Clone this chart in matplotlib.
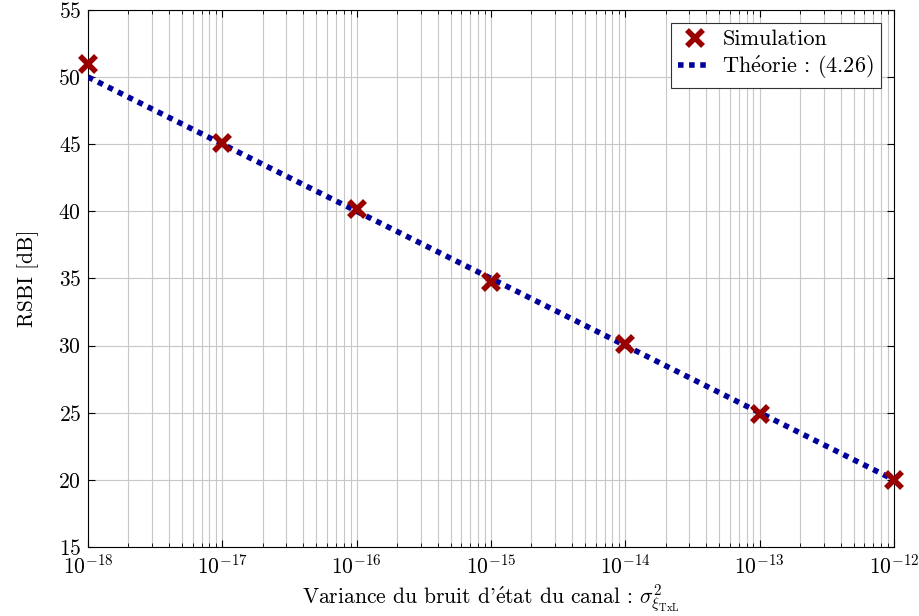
import numpy as np
import matplotlib
matplotlib.use('Agg')
import matplotlib.pyplot as plt

plt.rcParams['font.family'] = ['cmr10', 'DejaVu Serif']
plt.rcParams['mathtext.fontset'] = 'cm'
plt.rcParams['axes.unicode_minus'] = False
plt.rcParams['axes.formatter.use_mathtext'] = True

variance = [1e-18, 1e-17, 1e-16, 1e-15, 1e-14, 1e-13, 1e-12]
rsbi_sim = [51.0, 45.1, 40.2, 34.7, 30.1, 24.9, 20.0]
rsbi_theory = [50.0, 45.0, 40.0, 35.0, 30.0, 25.0, 20.0]

fig = plt.figure(figsize=(9.2, 6.16), dpi=100)
ax = fig.add_axes([0.0957, 0.112, 0.876, 0.872])

ax.plot(variance, rsbi_theory, color='#00009a', linestyle=(0, (1, 1)), linewidth=4,
        label=r'Th$\acute{\mathrm{e}}$orie : (4.26)', zorder=3)
ax.plot(variance, rsbi_sim, linestyle='none', marker='x', markersize=12, markeredgewidth=4,
        color='#990000', label='Simulation', zorder=4, clip_on=False)

ax.set_xscale('log')
ax.set_xlim(1e-18, 1e-12)
ax.set_ylim(15, 55)
ax.set_yticks(np.arange(15, 56, 5))
ax.grid(True, which='major', color='#c8c8c8', linewidth=0.8)
ax.grid(True, which='minor', axis='x', color='#c8c8c8', linewidth=0.8)
ax.tick_params(which='both', direction='in', labelsize=15.5, top=True, right=True)
ax.tick_params(which='major', length=5, pad=5)
ax.tick_params(which='minor', length=3)
for s in ax.spines.values():
    s.set_linewidth(0.8)

ax.set_xlabel(r"Variance du bruit d'$\acute{\mathrm{e}}$tat du canal : $\sigma^2_{\xi_{\mathrm{TxL}}}$",
              fontsize=15.5, labelpad=3)
ax.set_ylabel('RSBI [dB]', fontsize=15.5, labelpad=14)

handles, labels = ax.get_legend_handles_labels()
leg = ax.legend(handles[::-1], labels[::-1], loc='upper right', fontsize=16, fancybox=False,
                edgecolor='#333333', framealpha=1, borderaxespad=0.6, handlelength=1.5,
                handletextpad=0.5, borderpad=0.3, labelspacing=0.2)
leg.get_frame().set_linewidth(0.8)

fig.savefig('out.png', dpi=100)
